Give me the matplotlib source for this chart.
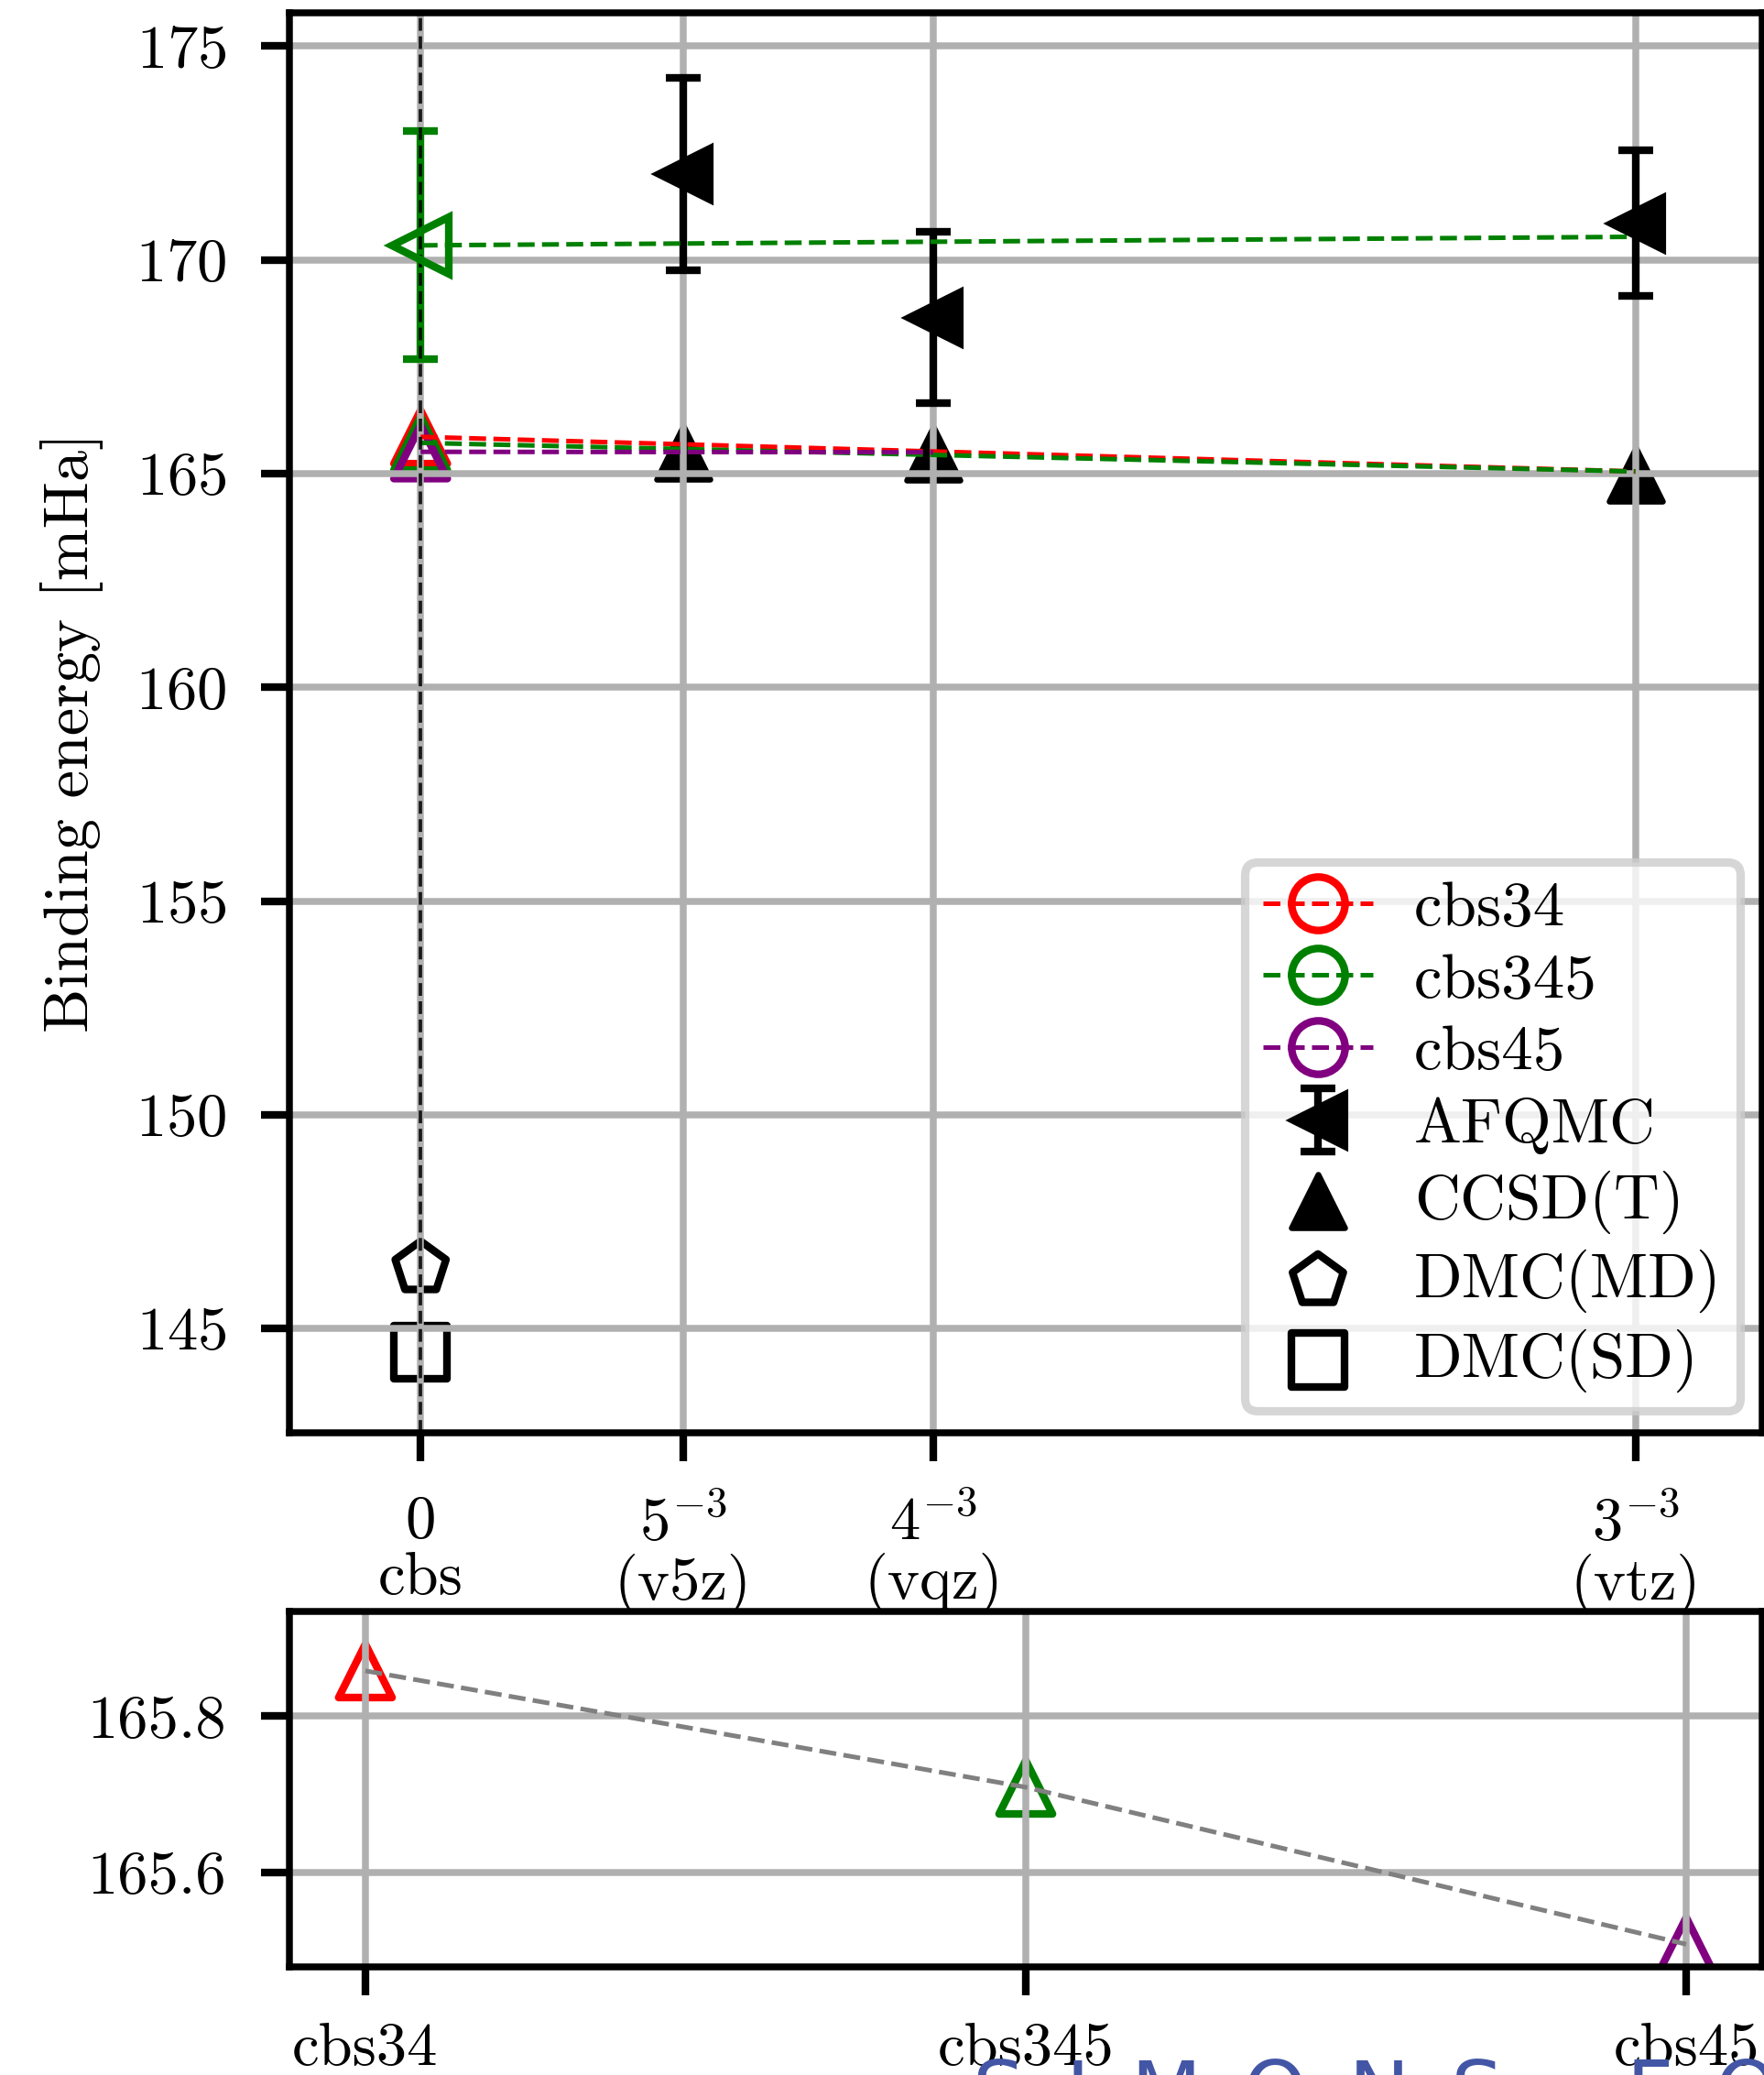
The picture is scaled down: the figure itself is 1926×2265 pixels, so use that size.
import matplotlib
matplotlib.use("Agg")
import matplotlib.pyplot as plt
from matplotlib.lines import Line2D

plt.rcParams.update({
    "font.family": "serif",
    "font.serif": ["cmr10"],
    "mathtext.fontset": "cm",
    "axes.unicode_minus": False,
    "axes.formatter.use_mathtext": True,
    "font.size": 16,
    "axes.linewidth": 1.8,
    "xtick.major.size": 7.5,
    "ytick.major.size": 7.5,
    "xtick.major.width": 2.0,
    "ytick.major.width": 2.0,
    "xtick.major.pad": 9,
    "ytick.major.pad": 9,
    "grid.color": "#b0b0b0",
    "grid.linewidth": 1.8,
})

# basis-set axis, x = L^-3
basis_x = [0.0, 5 ** -3, 4 ** -3, 3 ** -3]
basis_labels = ["0\ncbs", "$5^{-3}$\n(v5z)", "$4^{-3}$\n(vqz)", "$3^{-3}$\n(vtz)"]

# AFQMC binding energies (mHa) at v5z, vqz, vtz and the cbs estimate
afqmc_x = [5 ** -3, 4 ** -3, 3 ** -3]
afqmc_y = [172.0, 168.65, 170.86]
afqmc_err = [2.25, 2.0, 1.7]
afqmc_cbs = 170.34
afqmc_cbs_err = 2.67
afqmc_fit_x = [0.0, 3 ** -3]
afqmc_fit_y = [170.34, 170.54]

# CCSD(T)
ccsdt_x = [5 ** -3, 4 ** -3, 3 ** -3]
ccsdt_y = [165.50, 165.48, 164.98]

# CCSD(T) basis-set extrapolations
cbs_names = ["cbs34", "cbs345", "cbs45"]
cbs_colors = ["red", "green", "purple"]
cbs_values = [165.858, 165.709, 165.508]
cbs_fit_x = [[0.0, 3 ** -3], [0.0, 3 ** -3], [0.0, 4 ** -3]]
cbs_fit_y = [[165.86, 165.05], [165.72, 165.05], [165.51, 165.50]]

# DMC
dmc_md = 146.42
dmc_sd = 144.45

fig = plt.figure(figsize=(1927 / 300, 2265 / 300), dpi=300)
ax = fig.add_axes([316 / 1927, 1 - 1564 / 2265, 1608 / 1927, 1550 / 2265])
ax2 = fig.add_axes([316 / 1927, 1 - 2147 / 2265, 1608 / 1927, 388 / 2265])

# top panel
ax.grid(True)
ms = 14
sc_ccsdt = ax.scatter(ccsdt_x, ccsdt_y, marker="^", s=ms ** 2, c="k", linewidths=1.5)
sc_md = ax.scatter([0.0], [dmc_md], marker="p", s=ms ** 2, facecolors="none",
                   edgecolors="k", linewidths=2)
sc_sd = ax.scatter([0.0], [dmc_sd], marker="s", s=ms ** 2, facecolors="none",
                   edgecolors="k", linewidths=2)
for color, val in zip(cbs_colors, cbs_values):
    ax.scatter([0.0], [val], marker="^", s=ms ** 2, facecolors="none",
               edgecolors=color, linewidths=2)
for color, fx, fy in zip(cbs_colors, cbs_fit_x, cbs_fit_y):
    ax.plot(fx, fy, "--", color=color, lw=1.2)

afq = ax.errorbar(afqmc_x, afqmc_y, yerr=afqmc_err, fmt="<", color="k", ms=15,
                  elinewidth=2, capsize=4.5, capthick=2)
ax.errorbar([0.0], [afqmc_cbs], yerr=[afqmc_cbs_err], fmt="<", color="green",
            mfc="none", ms=15, mew=2, elinewidth=2, capsize=4.5, capthick=2)
ax.plot(afqmc_fit_x, afqmc_fit_y, "--", color="green", lw=1.2)
ax.axvline(0.0, color="k", ls="--", lw=0.9, alpha=0.85)

ax.set_xlim(-0.004, 0.0409)
ax.set_ylim(142.56, 175.78)
ax.set_yticks([145, 150, 155, 160, 165, 170, 175])
ax.set_xticks(basis_x)
ax.set_xticklabels(basis_labels)
for lab in ax.get_xticklabels():
    lab.set_linespacing(1.02)
ax.set_ylabel("Binding energy [mHa]", fontsize=16.4)
ax.yaxis.set_label_coords(-0.126, 0.493)

handles = [Line2D([], [], ls="--", lw=1.2, color=c, marker="o", mfc="none", ms=ms, mew=2)
           for c in cbs_colors]
handles += [afq, sc_ccsdt, sc_md, sc_sd]
labels = cbs_names + ["AFQMC", "CCSD(T)", "DMC(MD)", "DMC(SD)"]
leg = ax.legend(handles, labels, loc="lower right", bbox_to_anchor=(0.9848, 0.0155),
                borderaxespad=0, handlelength=1.73, handletextpad=0.65,
                labelspacing=0.25, borderpad=0.29, fontsize=16.6, scatterpoints=1)
leg.get_frame().set_linewidth(2.2)

# bottom panel: the three extrapolated values
ax2.grid(True)
cbs_pos = list(range(len(cbs_names)))
for p, color, val in zip(cbs_pos, cbs_colors, cbs_values):
    ax2.scatter([p], [val], marker="^", s=ms ** 2, facecolors="none",
                edgecolors=color, linewidths=2)
ax2.plot(cbs_pos, cbs_values, "--", color="gray", lw=1.2)
ax2.set_xticks(cbs_pos)
ax2.set_xticklabels(cbs_names)
ax2.tick_params(axis="x", pad=7)
ax2.set_yticks([165.6, 165.8])
ax2.set_yticklabels(["165.6", "165.8"])
ax2.set_xlim(-0.115, 2.115)
ax2.set_ylim(165.479, 165.934)

# page watermark cut off at the bottom edge
fig.text(1062 / 1927, 1 - 2246 / 2265, "\u2002".join("SIMONS") + "\u2003\u2002" + "\u2002".join("FOUNDATION"),
         color="#4356a6", fontsize=21.5, family="DejaVu Sans", va="top", ha="left")

fig.savefig("out.png", dpi=300)
